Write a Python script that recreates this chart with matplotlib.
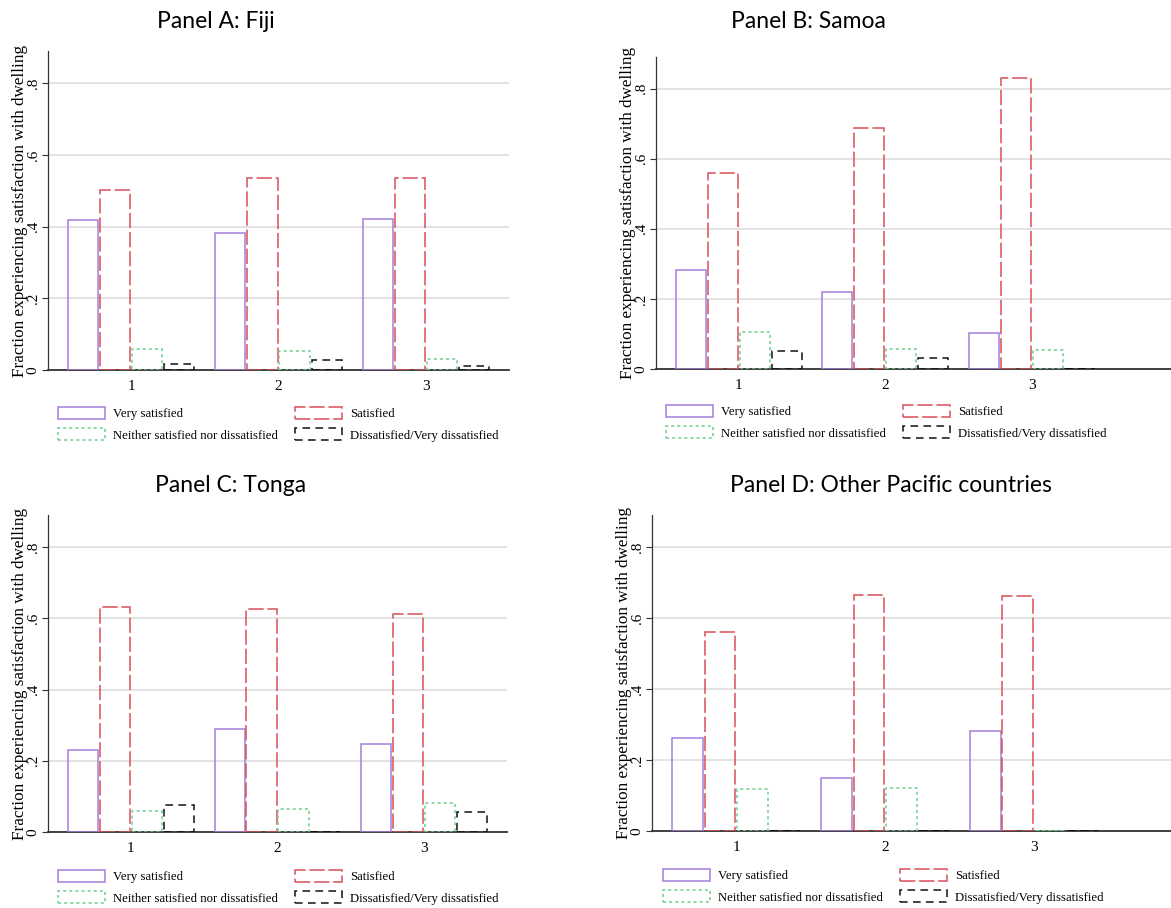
import numpy as np
import matplotlib
matplotlib.use("Agg")
import matplotlib.pyplot as plt

plt.rcParams['font.family'] = ['Liberation Serif', 'DejaVu Serif']

# data
groups = [1, 2, 3]
categories = ['Very satisfied', 'Satisfied',
              'Neither satisfied nor dissatisfied', 'Dissatisfied/Very dissatisfied']
titles = ['Panel A: Fiji', 'Panel B: Samoa', 'Panel C: Tonga',
          'Panel D: Other Pacific countries']

fiji_very = [0.418, 0.383, 0.422]
fiji_sat = [0.503, 0.537, 0.537]
fiji_neither = [0.058, 0.053, 0.030]
fiji_dis = [0.018, 0.027, 0.010]

samoa_very = [0.283, 0.220, 0.103]
samoa_sat = [0.559, 0.687, 0.831]
samoa_neither = [0.105, 0.058, 0.054]
samoa_dis = [0.050, 0.031, 0.0]

tonga_very = [0.229, 0.288, 0.246]
tonga_sat = [0.633, 0.627, 0.613]
tonga_neither = [0.059, 0.064, 0.082]
tonga_dis = [0.076, 0.0, 0.056]

other_very = [0.263, 0.148, 0.283]
other_sat = [0.561, 0.664, 0.663]
other_neither = [0.117, 0.121, 0.0]
other_dis = [0.0, 0.0, 0.0]

panels = [
    [fiji_very, fiji_sat, fiji_neither, fiji_dis],
    [samoa_very, samoa_sat, samoa_neither, samoa_dis],
    [tonga_very, tonga_sat, tonga_neither, tonga_dis],
    [other_very, other_sat, other_neither, other_dis],
]

colors = ['#a57fdb', '#d9505a', '#6fd08f', '#111111']
styles = ['solid', (0, (10, 2.5)), (0, (2, 2)), (0, (5, 3.5))]

W, H = 1171, 908
fig = plt.figure(figsize=(W / 100, H / 100), dpi=100)

# axes boxes in pixels: left, top, right, bottom, xmax
boxes = [
    (48, 51, 509, 370, 3.565),
    (656, 57, 1171, 369, 3.95),
    (48, 515, 507, 832, 3.565),
    (652, 515, 1171, 831, 3.92),
]
title_pos = [(216, 22), (808, 22), (231, 485), (891, 485)]
legend_pos = [(58, 407), (666, 405), (58, 870), (663, 869)]

width = 0.205
step = 0.218
x = np.array(groups, dtype=float)

for k in range(4):
    l, t, r, b, xmax = boxes[k]
    ax = fig.add_axes([l / W, 1 - b / H, (r - l) / W, (b - t) / H])
    for i in range(4):
        ax.bar(x + (i - 1.5) * step, panels[k][i], width, facecolor='none',
               edgecolor=colors[i], linestyle=styles[i], linewidth=1.1,
               label=categories[i], zorder=3)
    ax.set_xlim(0.435, xmax)
    ax.set_ylim(0, 0.89)
    ax.set_yticks([0, 0.2, 0.4, 0.6, 0.8])
    ax.set_yticklabels(['0', '.2', '.4', '.6', '.8'], rotation=90, va='center')
    ax.set_xticks(groups)
    ax.set_xticklabels(['1', '2', '3'])
    ax.tick_params(axis='x', length=0, labelsize=11, pad=7)
    ax.tick_params(axis='y', length=4, width=0.8, color='#333333', labelsize=11, pad=2)
    ax.grid(axis='y', color='#e3e3e3', linewidth=1.4, zorder=0)
    for s in ['top', 'right']:
        ax.spines[s].set_visible(False)
    ax.spines['left'].set_color('#333333')
    ax.spines['bottom'].set_color('#333333')
    ax.spines['left'].set_linewidth(0.9)
    ax.spines['bottom'].set_linewidth(1.3)
    ax.set_ylabel('Fraction experiencing satisfaction with dwelling', fontsize=12.3, labelpad=-1)
    tx, ty = title_pos[k]
    fig.text(tx / W, 1 - ty / H, titles[k], ha='center', va='center', fontsize=16.5,
             family=['Lato', 'DejaVu Sans'])
    lx, ly = legend_pos[k]
    handles, labels = ax.get_legend_handles_labels()
    order = [0, 2, 1, 3]
    ax.legend([handles[j] for j in order], [labels[j] for j in order], ncol=2,
              loc='upper left', bbox_to_anchor=(lx / W, 1 - ly / H),
              bbox_transform=fig.transFigure, frameon=False, fontsize=9.2,
              handlelength=3.67, handleheight=1.1, handletextpad=0.63,
              columnspacing=1.33, labelspacing=0.6, borderpad=0, borderaxespad=0)

fig.savefig('out.png', dpi=100)
